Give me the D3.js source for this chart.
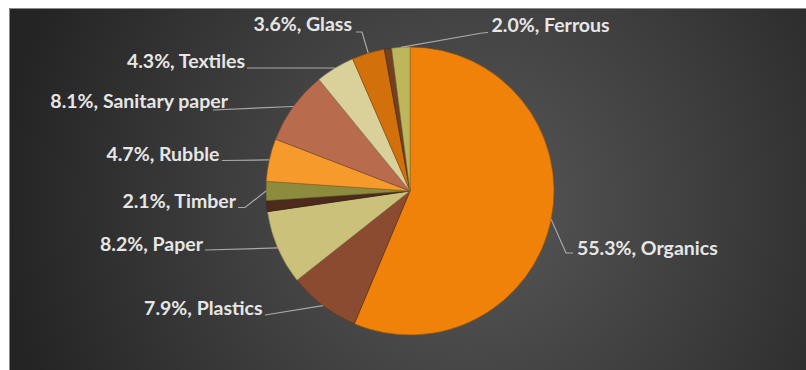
<!DOCTYPE html>
<html>
<head>
<meta charset="utf-8">
<script src="https://cdn.jsdelivr.net/npm/d3@7"></script>
<style>
  html, body { margin: 0; padding: 0; background: #ffffff; }
  svg { display: block; }
</style>
</head>
<body>
<svg id="chart" width="806" height="370"></svg>
<script>
// Waste composition by share of total (%)
const categories = ["Organics", "Plastics", "Paper", "Other A", "Timber", "Rubble",
                    "Sanitary paper", "Textiles", "Glass", "Other B", "Ferrous"];
const shares     = [55.3, 7.9, 8.2, 1.2, 2.1, 4.7, 8.1, 4.3, 3.6, 0.8, 2.0];
const labelled   = [true, true, true, false, true, true, true, true, true, false, true];

const sliceColors = ["#f0820a", "#8a4b30", "#cbc17b", "#4e2a1c", "#8d8c3e", "#f69a2c",
                     "#b86c4d", "#d9d09a", "#d2700c", "#74401f", "#beb65c"];

// Label placement: text anchor point and leader-line elbows (drawn from the slice edge)
const labelLayout = {
  "Organics":       { x: 577,   y: 254.5, anchor: "start", leader: [[566, 253], [573, 253]] },
  "Plastics":       { x: 262.5, y: 315,   anchor: "end",   leader: [[265, 315]] },
  "Paper":          { x: 203,   y: 251,   anchor: "end",   leader: [[205, 250]] },
  "Timber":         { x: 236,   y: 207.5, anchor: "end",   leader: [[245, 207.5], [238, 207.5]] },
  "Rubble":         { x: 219.5, y: 160.5, anchor: "end",   leader: [[222, 160.5]] },
  "Sanitary paper": { x: 228,   y: 107.5, anchor: "end",   leader: [[213, 110]] },
  "Textiles":       { x: 245,   y: 68,    anchor: "end",   leader: [[247, 68]] },
  "Glass":          { x: 352,   y: 31,    anchor: "end",   leader: [[362, 32], [356, 32]] },
  "Ferrous":        { x: 491.5, y: 32.3,  anchor: "start", leader: [[482, 33], [488, 32.5]] }
};

const data = categories.map((c, i) => ({ name: c, value: shares[i], labelled: labelled[i], color: sliceColors[i] }));

const svg = d3.select("#chart");
const W = 806, H = 370;
const cx = 410, cy = 191, radius = 144;

// Dark panel with a soft radial light
const defs = svg.append("defs");
const bg = defs.append("radialGradient")
  .attr("id", "panelGlow")
  .attr("gradientUnits", "userSpaceOnUse")
  .attr("cx", 470).attr("cy", 205).attr("r", 470);
bg.append("stop").attr("offset", "0%").attr("stop-color", "#585858");
bg.append("stop").attr("offset", "55%").attr("stop-color", "#3c3c3c");
bg.append("stop").attr("offset", "100%").attr("stop-color", "#242424");

svg.append("rect")
  .attr("x", 9).attr("y", 8)
  .attr("width", W - 9).attr("height", H - 8)
  .attr("fill", "url(#panelGlow)");
svg.append("path")
  .attr("d", `M9.5,${H} V8.5 H${W}`)
  .attr("fill", "none")
  .attr("stroke", "#8a8a8a")
  .attr("stroke-width", 1);

const pie = d3.pie().value(d => d.value).sort(null);
const arc = d3.arc().innerRadius(0).outerRadius(radius);
const arcs = pie(data);

const g = svg.append("g").attr("transform", `translate(${cx},${cy})`);

g.selectAll("path.slice")
  .data(arcs)
  .join("path")
  .attr("class", "slice")
  .attr("d", arc)
  .attr("fill", d => d.data.color)
  .attr("stroke", d => d3.color(d.data.color).darker(1.2))
  .attr("stroke-opacity", 0.7)
  .attr("stroke-width", 0.9)
  .attr("stroke-linejoin", "round");

// Leader lines from the middle of each slice's outer edge
const edgePoint = d => {
  const a = (d.startAngle + d.endAngle) / 2;
  return [cx + radius * Math.sin(a), cy - radius * Math.cos(a)];
};

const labelledArcs = arcs.filter(d => d.data.labelled);

svg.selectAll("path.leader")
  .data(labelledArcs)
  .join("path")
  .attr("class", "leader")
  .attr("d", d => d3.line()([edgePoint(d), ...labelLayout[d.data.name].leader]))
  .attr("fill", "none")
  .attr("stroke", "#a9a9a9")
  .attr("stroke-width", 1.2);

svg.selectAll("text.label")
  .data(labelledArcs)
  .join("text")
  .attr("class", "label")
  .attr("x", d => labelLayout[d.data.name].x)
  .attr("y", d => labelLayout[d.data.name].y)
  .attr("text-anchor", d => labelLayout[d.data.name].anchor)
  .attr("fill", "#e6e6e6")
  .attr("font-family", "Lato, 'Open Sans', sans-serif")
  .attr("font-weight", 700)
  .attr("font-size", 19.5)
  .text(d => `${d.data.value.toFixed(1)}%, ${d.data.name}`);
</script>
</body>
</html>
